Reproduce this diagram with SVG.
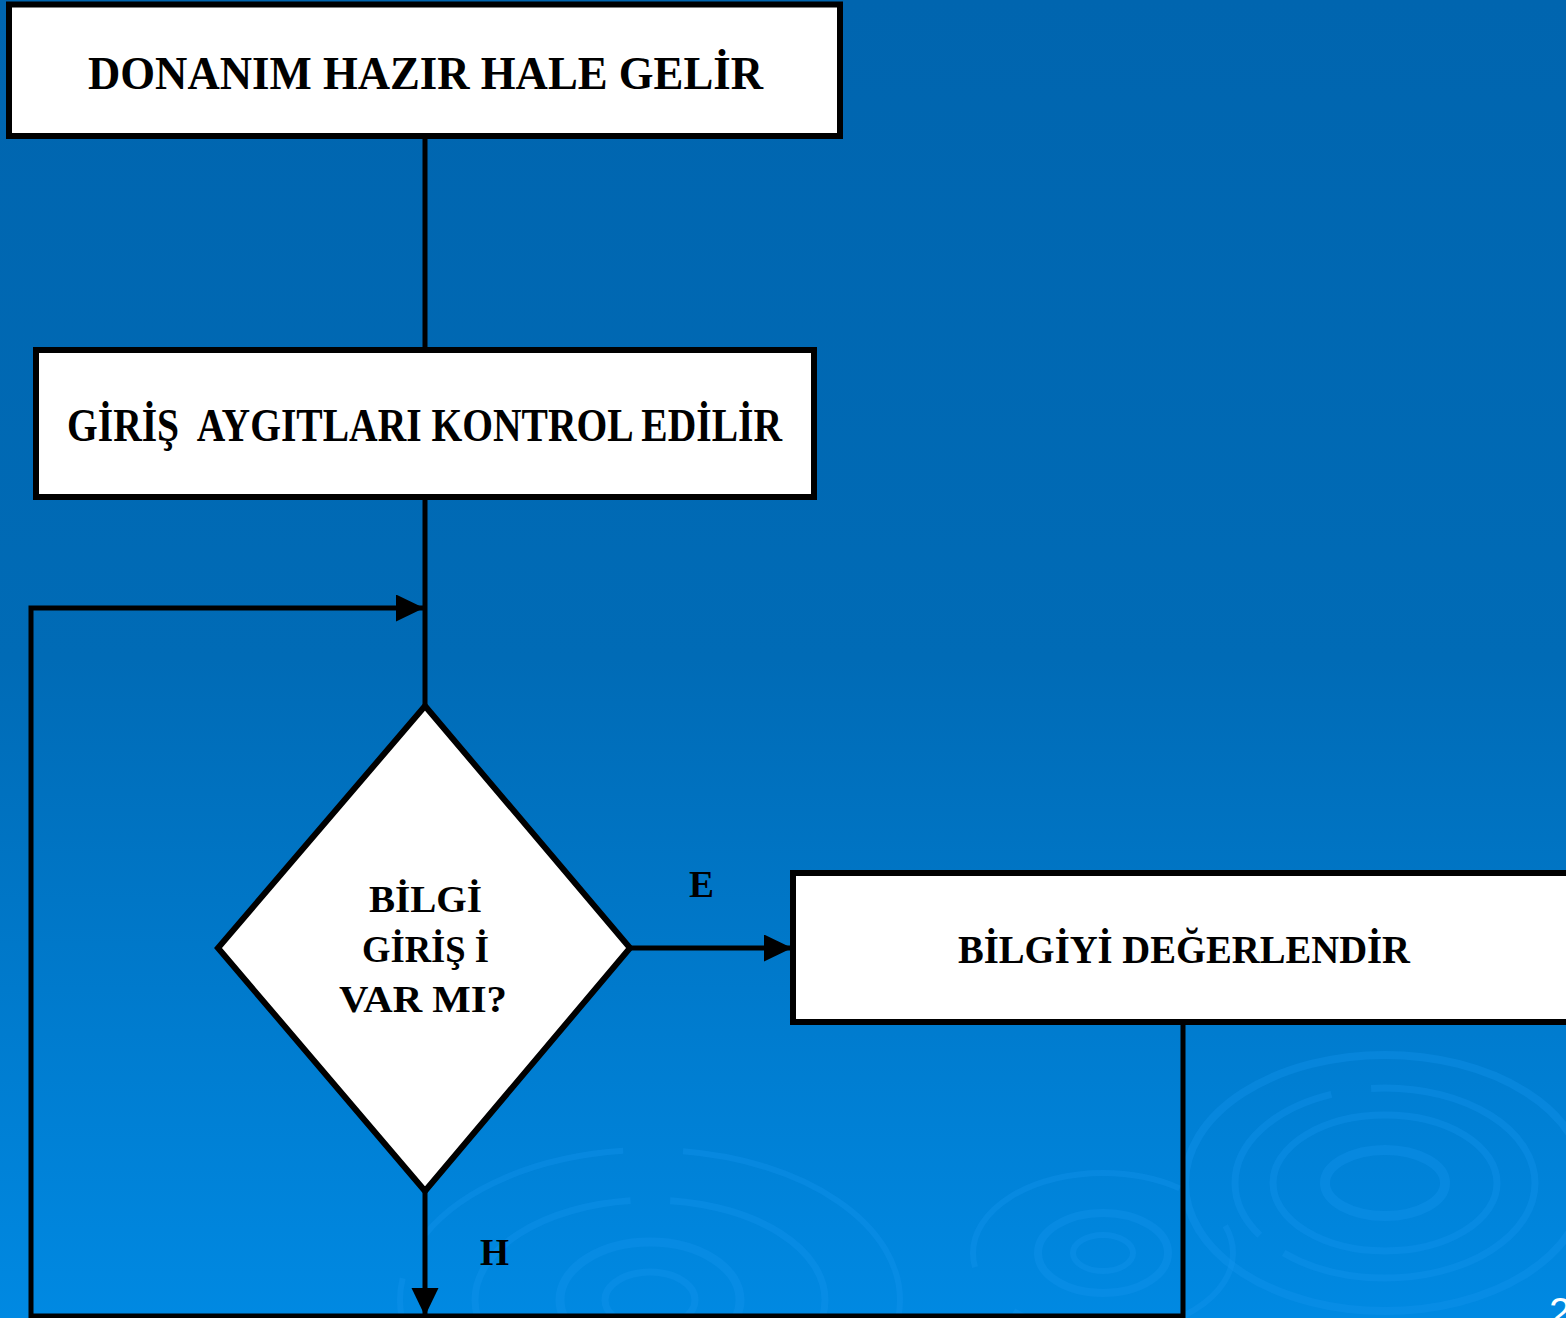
<svg xmlns="http://www.w3.org/2000/svg" width="1566" height="1318" viewBox="0 0 1566 1318">
  <style>
    .box { fill: #ffffff; stroke: #000000; stroke-width: 6; }
    .lbl { font-family: "Liberation Serif", "Times New Roman", serif; font-weight: bold; fill: #000000; text-anchor: start; }
    .conn { fill: none; stroke: #000000; stroke-width: 5; stroke-linejoin: miter; }
    .ripple { fill: none; stroke: #1596ef; stroke-opacity: 0.35; }
  </style>
  <defs>
    <linearGradient id="bg" x1="0" y1="0" x2="0" y2="1">
      <stop offset="0" stop-color="#0065af"/>
      <stop offset="0.5" stop-color="#006bb6"/>
      <stop offset="1" stop-color="#0089e2"/>
    </linearGradient>
    <marker id="head" markerUnits="userSpaceOnUse" markerWidth="30" markerHeight="30" refX="28" refY="13.5" orient="auto">
      <path d="M0,0 L28,13.5 L0,27 Z" fill="#000000"/>
    </marker>
  </defs>

  <!-- background with water ripples -->
  <rect x="0" y="0" width="1566" height="1318" fill="url(#bg)"/>
  <g id="ripples">
    <ellipse class="ripple" cx="1385" cy="1183" rx="200" ry="128" stroke-width="8"/>
    <ellipse class="ripple" cx="1385" cy="1183" rx="150" ry="95" stroke-width="7" stroke-dasharray="300 30 200 40"/>
    <ellipse class="ripple" cx="1385" cy="1183" rx="112" ry="68" stroke-width="7"/>
    <ellipse class="ripple" cx="1385" cy="1183" rx="60" ry="33" stroke-width="10"/>
    <ellipse class="ripple" cx="1103" cy="1253" rx="130" ry="80" stroke-width="6" stroke-dasharray="260 60"/>
    <ellipse class="ripple" cx="1103" cy="1253" rx="65" ry="40" stroke-width="8"/>
    <ellipse class="ripple" cx="1103" cy="1253" rx="30" ry="18" stroke-width="6"/>
    <ellipse class="ripple" cx="650" cy="1300" rx="250" ry="150" stroke-width="6" stroke-dasharray="220 60 380 50"/>
    <ellipse class="ripple" cx="650" cy="1300" rx="175" ry="100" stroke-width="7" stroke-dasharray="300 40"/>
    <ellipse class="ripple" cx="650" cy="1300" rx="90" ry="58" stroke-width="9"/>
    <ellipse class="ripple" cx="650" cy="1300" rx="45" ry="28" stroke-width="7"/>
  </g>

  <!-- connectors -->
  <g id="connectors">
    <path class="conn" d="M425,138 V350"/>
    <path class="conn" d="M425,497 V706"/>
    <path class="conn" d="M630,948 H792" marker-end="url(#head)"/>
    <path class="conn" d="M425,1192 V1316" marker-end="url(#head)"/>
    <path class="conn" d="M1183,1025 V1316 H31 V608 H424" marker-end="url(#head)"/>
    <text class="lbl" x="689" y="897" font-size="38" textLength="25" lengthAdjust="spacingAndGlyphs">E</text>
    <text class="lbl" x="480" y="1265" font-size="38" textLength="29" lengthAdjust="spacingAndGlyphs">H</text>
  </g>

  <!-- start box -->
  <g id="node-donanim">
    <rect class="box" x="9" y="4.5" width="831" height="131.5"/>
    <text class="lbl" x="88" y="89" font-size="46" textLength="675" lengthAdjust="spacingAndGlyphs">DONANIM HAZIR HALE GELİR</text>
  </g>

  <!-- input device check -->
  <g id="node-giris">
    <rect class="box" x="36" y="350" width="778" height="147"/>
    <text class="lbl" x="67" y="441" font-size="46" textLength="715" lengthAdjust="spacingAndGlyphs" xml:space="preserve">GİRİŞ  AYGITLARI KONTROL EDİLİR</text>
  </g>

  <!-- decision -->
  <g id="node-karar">
    <polygon class="box" points="425,706 218,948 425,1191 630,948"/>
    <text class="lbl" x="369" y="912" font-size="38" textLength="113" lengthAdjust="spacingAndGlyphs">BİLGİ</text>
    <text class="lbl" x="362" y="962" font-size="38" textLength="127" lengthAdjust="spacingAndGlyphs">GİRİŞ İ</text>
    <text class="lbl" x="339" y="1012" font-size="38" textLength="168" lengthAdjust="spacingAndGlyphs">VAR MI?</text>
  </g>

  <!-- evaluate box -->
  <g id="node-degerlendir">
    <rect class="box" x="793" y="873" width="800" height="149"/>
    <text class="lbl" x="958" y="963" font-size="41" textLength="452" lengthAdjust="spacingAndGlyphs">BİLGİYİ DEĞERLENDİR</text>
  </g>

  <!-- slide number -->
  <text x="1549" y="1326" font-family="Liberation Sans, Arial, sans-serif" font-size="40" fill="#ffffff">2</text>
</svg>
